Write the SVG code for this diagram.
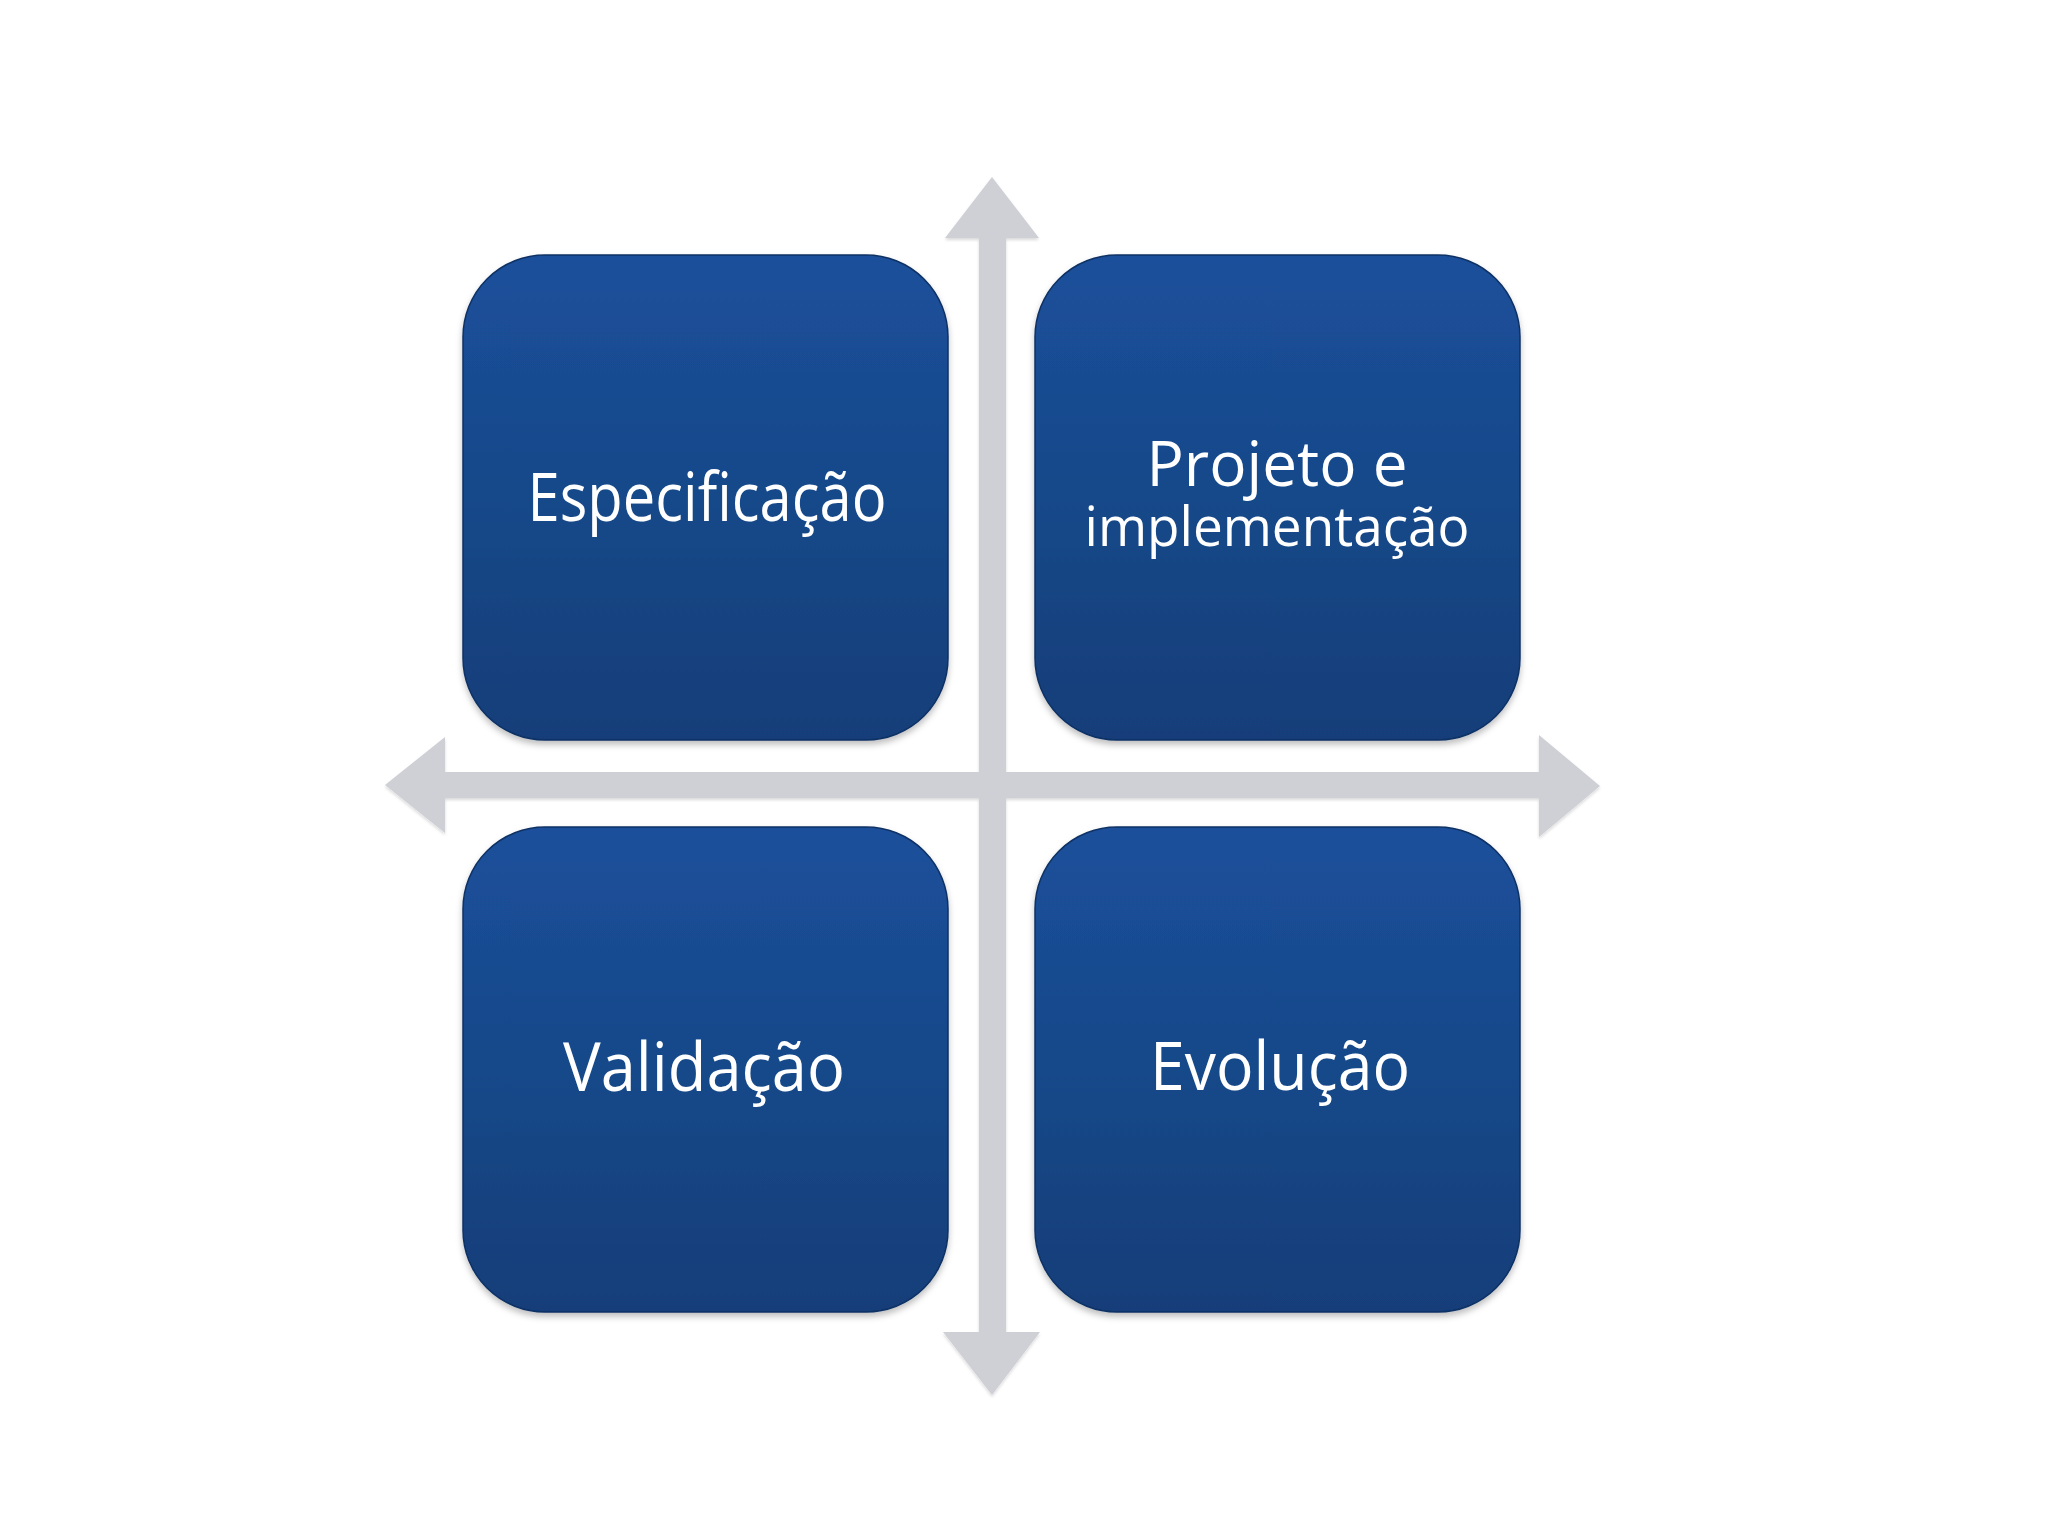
<svg xmlns="http://www.w3.org/2000/svg" width="2048" height="1536" viewBox="0 0 2048 1536">
  <defs>
    <linearGradient id="boxGrad" x1="0" y1="0" x2="0" y2="1">
      <stop offset="0" stop-color="#1b509b"/>
      <stop offset="0.5" stop-color="#174889"/>
      <stop offset="1" stop-color="#133e79"/>
    </linearGradient>
    <filter id="shadow" x="-10%" y="-10%" width="120%" height="125%">
      <feDropShadow dx="0" dy="4" stdDeviation="3" flood-color="#000000" flood-opacity="0.25"/>
    </filter>
    <filter id="arrowShadow" x="-10%" y="-10%" width="120%" height="120%">
      <feDropShadow dx="0" dy="2" stdDeviation="1.5" flood-color="#000000" flood-opacity="0.15"/>
    </filter>
  </defs>
  <style>
    .box { fill: url(#boxGrad); stroke: #0f3164; stroke-width: 1.5; filter: url(#shadow); }
    .arrow { fill: #cfd0d6; filter: url(#arrowShadow); }
    .lbl { fill: #ffffff; font-family: "Open Sans", "Noto Sans", "DejaVu Sans", sans-serif; text-anchor: middle; }
  </style>
  <rect width="2048" height="1536" fill="#ffffff"/>
  <g id="connectors">
    <path class="arrow" d="M992,177 L1039,238 L1006,238 L1006,772 L1539,772 L1539,735 L1600,786 L1539,837 L1539,798 L1006,798 L1006,1332 L1040,1332 L992,1395 L943,1332 L979,1332 L979,798 L445,798 L445,833 L385,785 L445,737 L445,772 L979,772 L979,238 L945,238 Z"/>
  </g>
  <g id="node-especificacao">
    <rect class="box" x="463" y="255" width="485" height="485" rx="82" ry="82"/>
    <text class="lbl" x="707" y="521" font-size="68" textLength="359" lengthAdjust="spacingAndGlyphs">Especificação</text>
  </g>
  <g id="node-projeto">
    <rect class="box" x="1035" y="255" width="485" height="485" rx="82" ry="82"/>
    <text class="lbl" x="1277" y="486" font-size="62" textLength="261" lengthAdjust="spacingAndGlyphs">Projeto e</text>
    <text class="lbl" x="1277" y="546" font-size="54" textLength="385" lengthAdjust="spacingAndGlyphs">implementação</text>
  </g>
  <g id="node-validacao">
    <rect class="box" x="463" y="827" width="485" height="485" rx="82" ry="82"/>
    <text class="lbl" x="704" y="1091" font-size="68" textLength="282" lengthAdjust="spacingAndGlyphs">Validação</text>
  </g>
  <g id="node-evolucao">
    <rect class="box" x="1035" y="827" width="485" height="485" rx="82" ry="82"/>
    <text class="lbl" x="1280" y="1090" font-size="68" textLength="260" lengthAdjust="spacingAndGlyphs">Evolução</text>
  </g>
</svg>
